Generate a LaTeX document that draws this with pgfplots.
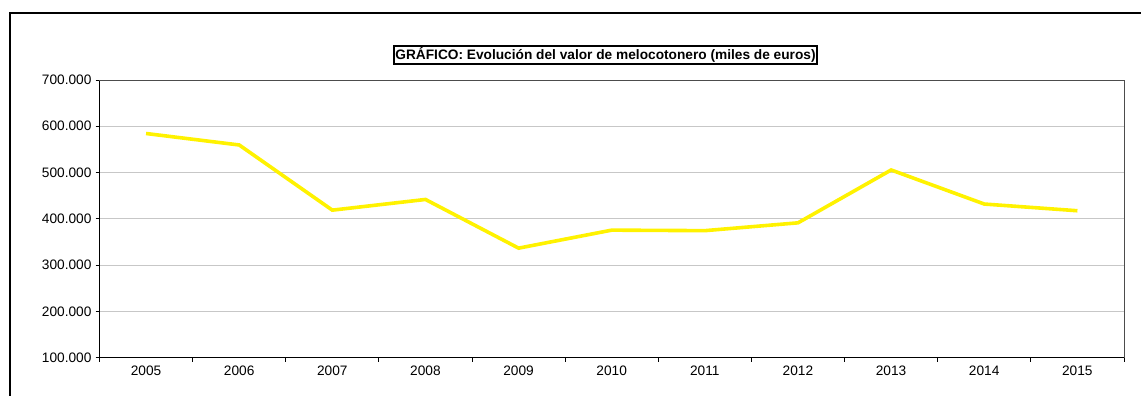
\documentclass[border=0pt]{standalone}
\usepackage{pgfplots}
\pgfplotsset{compat=1.18}
\usepackage{fontspec}
\setmainfont{Liberation Sans}
\pgfplotstableread{
year value
2005 584400
2006 559600
2007 418800
2008 441900
2009 336700
2010 375600
2011 374500
2012 391400
2013 505600
2014 432000
2015 417500
}\datatable
\begin{document}
\begin{tikzpicture}[x=1pt,y=1pt]
\useasboundingbox (0,0) rectangle (1141,396);
\draw[line width=1.8pt,black] (10,0) -- (10,383) -- (1141,383);
\begin{axis}[
  at={(99.5pt,38.3pt)}, anchor=south west,
  scale only axis, width=1024.5pt, height=277.7pt,
  xmin=2004.5, xmax=2015.5, ymin=100000, ymax=700000,
  xtick={2005,...,2015},
  minor xtick={2004.5,2005.5,...,2015.5},
  major x tick style={draw=none},
  minor tick length=4pt,
  ytick={100000,200000,...,700000},
  major tick length=4pt,
  tick align=outside,
  tick style={black, line width=0.8pt},
  ymajorgrids,
  grid style={line width=0.9pt, color=black!22},
  axis line style={line width=0.9pt},
  axis x line*=bottom, axis y line*=left,
  scaled y ticks=false,
  /pgf/number format/.cd, fixed, 1000 sep={.}, assume math mode=true,
  /pgfplots/.cd,
  xticklabel={\pgfmathprintnumber[fixed,1000 sep={}]{\tick}},
  ticklabel style={font=\fontsize{13.7}{15}\selectfont},
  yticklabel style={xshift=-0.5pt},
  xticklabel style={yshift=-0.5pt},
  clip=false,
]
\draw[line width=0.9pt, black!70] (axis cs:2004.5,700000) -- (axis cs:2015.5,700000) -- (axis cs:2015.5,100000);
\addplot[color=yellow, line width=3.6pt, line join=miter] table[x=year,y=value] {\datatable};
\end{axis}
\node[draw, line width=2pt, inner xsep=1.5pt, inner ysep=2pt, font=\bfseries\fontsize{13.7}{15}\selectfont] at (605.5,341) {GRÁFICO: Evolución del valor de melocotonero (miles de euros)};
\end{tikzpicture}
\end{document}
